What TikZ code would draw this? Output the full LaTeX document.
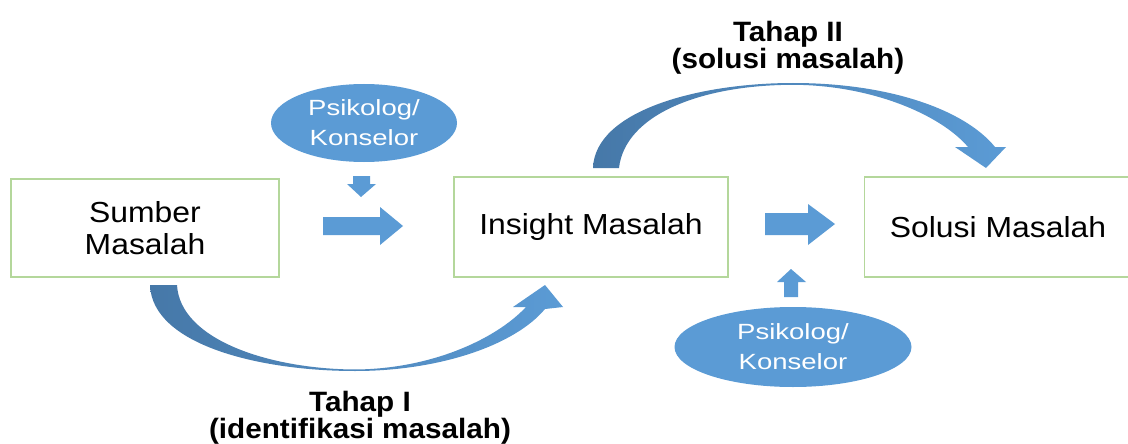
\documentclass[tikz,border=0pt]{standalone}
\usepackage{fontspec}
\setmainfont{Liberation Sans}[FakeStretch=1.1]
\newfontfamily\ellfont{Liberation Sans}[FakeStretch=1.25]
\newfontfamily\labfont{Liberation Sans}[FakeStretch=1.06]
\usetikzlibrary{shapes.geometric}
\definecolor{oblue}{HTML}{5B9BD5}
\definecolor{dblue}{HTML}{4678A8}
\definecolor{boxgreen}{HTML}{B4D79B}
\tikzset{
  x=1pt, y=-1pt,
  mbox/.style={draw=boxgreen, line width=1.3pt, fill=white, inner sep=0pt,
    align=center, font=\fontsize{29}{32}\selectfont},
  person/.style={ellipse, fill=oblue, draw=none, inner sep=0pt, text=white,
    align=center, font=\ellfont\fontsize{22}{30}\selectfont},
  stage/.style={align=center, inner sep=0pt, font=\labfont\bfseries\fontsize{28}{25}\selectfont},
  blockarrow/.style={fill=oblue, draw=none},
  bendarrow/.style={left color=dblue, right color=oblue, draw=none}
}
\begin{document}
\begin{tikzpicture}
\useasboundingbox (0,0) rectangle (1128,444);

% boxes
\node[mbox, minimum width=268pt, minimum height=98pt] (sumber) at (145,228) {Sumber\\Masalah};
\node[mbox, minimum width=274pt, minimum height=100pt] (insight) at (591,227) {Insight Masalah};
\node[mbox, minimum width=270pt, minimum height=100pt, anchor=west] (solusi) at (864,227) {};
\node at (998,227) [font=\fontsize{29}{32}\selectfont] (solusitext) {Solusi Masalah};

% ellipses
\node[person, minimum width=186pt, minimum height=78pt] (psi1) at (364,123) {Psikolog/\\Konselor};
\node[person, minimum width=237pt, minimum height=80pt] (psi2) at (793,347) {Psikolog/\\Konselor};

% stage labels
\node[stage] (tahap2) at (788,48) {Tahap II\\(solusi masalah)};
\node[stage] (tahap1) at (360,418) {Tahap I\\(identifikasi masalah)};

% block arrows
\fill[blockarrow] (323,217) -- (380,217) -- (380,207) -- (403,226) -- (380,245) -- (380,235) -- (323,235) -- cycle;
\fill[blockarrow] (765,213) -- (808,213) -- (808,204) -- (835,224) -- (808,245) -- (808,235) -- (765,235) -- cycle;
\fill[blockarrow] (353,176) -- (370,176) -- (370,184) -- (376,184) -- (361,197) -- (347,184) -- (353,184) -- cycle;
\fill[blockarrow] (784,297) -- (798,297) -- (798,282) -- (806,282) -- (791,269) -- (777,282) -- (784,282) -- cycle;

% curved arrow Tahap I
\shade[bendarrow]
  (150,285) .. controls (152,345) and (260,371) .. (355,371)
  .. controls (440,371) and (515,345) .. (545,309)
  -- (563,307) -- (545,285) -- (513,307) -- (526,307)
  .. controls (495,340) and (430,369) .. (355,369.5)
  .. controls (270,369) and (180,340) .. (177,285) -- cycle;

% curved arrow Tahap II
\shade[bendarrow]
  (593,168) .. controls (595,110) and (700,83) .. (793,83)
  .. controls (890,83) and (965,110) .. (995,147)
  -- (1006,147) -- (986,168) -- (955,147) -- (968,147)
  .. controls (940,114) and (870,85) .. (793,84.8)
  .. controls (700,85) and (625,115) .. (619,168) -- cycle;
\end{tikzpicture}
\end{document}
